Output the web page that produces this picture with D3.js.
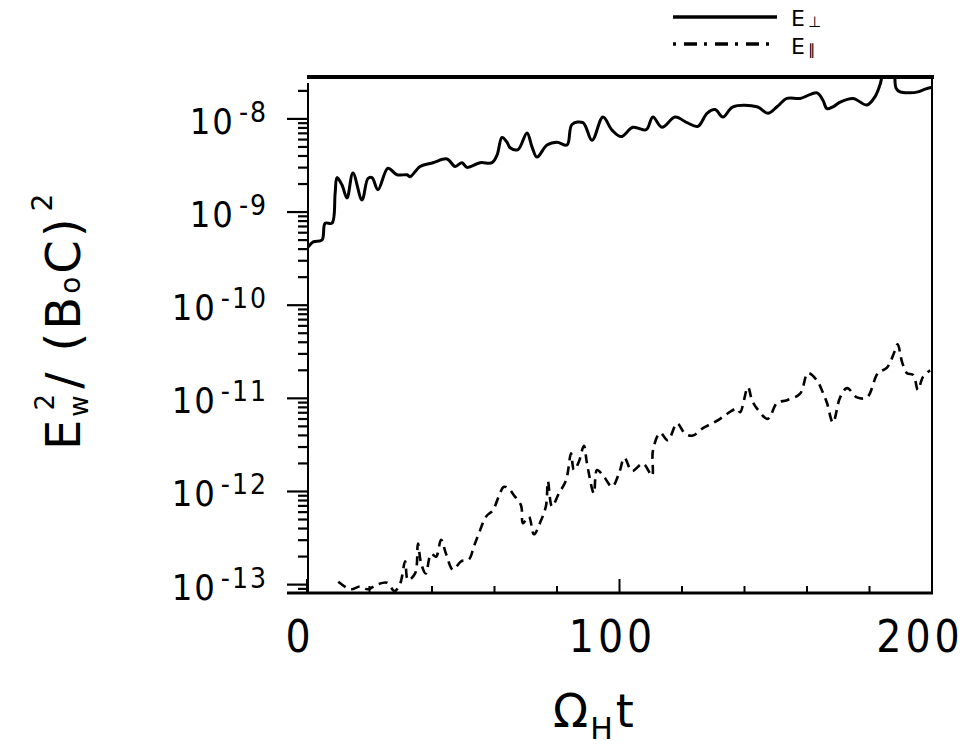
<!DOCTYPE html>
<html lang="en">
<head>
  <meta charset="UTF-8">
  <title>Wave energy growth</title>
  <style>
    body {
      margin: 0;
      background: #fff;
    }
    svg {
      display: block;
      font-family: 'DejaVu Sans', sans-serif;
    }
    .num {
      font-family: 'Liberation Sans Narrow', 'DejaVu Sans Condensed', 'DejaVu Sans', sans-serif;
      font-stretch: condensed;
    }
  </style>
</head>
<body>

<svg width="966" height="749"></svg>

<script src="https://d3js.org/d3.v7.min.js"></script>
<script>
// time (Omega_H t) and log10 of E_w^2/(B0 C)^2
const perpT = [0, 2, 4.8, 5.8, 8, 9, 9.6, 11.2, 12.8, 14.7, 17.6, 19.5, 20.8, 22.7, 25.9, 28.8, 32, 33, 36.2, 40.3,
  44.8, 47.4, 49.6, 51.2, 55.4, 59.2, 60.8, 62.4, 64, 65, 67.5, 70.4, 72, 73.6, 76.8, 80, 83.2, 84.8, 88.3, 91.2,
  94.7, 97.6, 100.5, 104.3, 108.2, 109, 110.7, 113.6, 117.8, 121.6, 125.1, 128, 130.6, 133.1, 136.3, 144, 147.5,
  150.4, 153.6, 157.8, 163.2, 165.1, 166.4, 168.3, 170.6, 174.7, 179.2, 181.8, 183.4, 185, 187.5, 188.5, 189.8,
  193, 195.5, 197.8, 200];
const perpLog = [-9.39, -9.32, -9.30, -9.12, -9.12, -8.80, -8.63, -8.71, -8.85, -8.58, -8.87, -8.64, -8.63, -8.76,
  -8.53, -8.60, -8.60, -8.62, -8.51, -8.47, -8.43, -8.51, -8.47, -8.52, -8.47, -8.47, -8.39, -8.20, -8.25, -8.31,
  -8.33, -8.15, -8.30, -8.41, -8.28, -8.25, -8.28, -8.06, -8.04, -8.23, -7.98, -8.12, -8.19, -8.09, -8.12, -8.10,
  -7.98, -8.09, -7.98, -8.04, -8.08, -7.94, -7.90, -7.98, -7.87, -7.87, -7.94, -7.87, -7.78, -7.78, -7.72, -7.80,
  -7.89, -7.87, -7.82, -7.78, -7.85, -7.76, -7.63, -7.45, -7.45, -7.67, -7.71, -7.72, -7.71, -7.68, -7.66];

const parT = [10, 14, 17, 19.5, 22.4, 25.6, 28, 29.8, 31.4, 32.3, 34.6, 35.5, 36.5, 38, 39.7, 41.3, 42.9, 44.5,
  46.7, 49.3, 51.8, 53.4, 55, 57.3, 59.5, 61.4, 63, 64.6, 66.2, 68.5, 69.1, 71, 72.6, 74.9, 76.5, 77.1, 78.4, 80.6,
  82.9, 84.5, 85.4, 87, 88.6, 89.6, 91.8, 92.8, 95, 97.6, 99.8, 101.6, 104, 107.5, 110.4, 110.7, 113, 115.5, 118.4,
  121, 123.5, 126.7, 129.6, 132.2, 134.7, 137.6, 138.6, 141.1, 142.4, 144, 147.5, 150.4, 153.6, 157.8, 160.3, 163.2,
  165.1, 166.4, 168.3, 170.6, 172.8, 176, 179.2, 182.7, 185.6, 188, 189, 190.5, 192, 194, 195.5, 197.1, 199.4];
const parLog = [-12.97, -13.05, -13.02, -13.05, -13.0, -12.98, -13.07, -12.99, -12.75, -12.95, -12.88, -12.56,
  -12.77, -12.88, -12.67, -12.70, -12.52, -12.67, -12.84, -12.75, -12.73, -12.59, -12.45, -12.27, -12.20, -12.05,
  -11.95, -11.97, -12.04, -12.15, -12.34, -12.27, -12.46, -12.31, -12.15, -11.89, -12.16, -12.02, -11.88, -11.59,
  -11.77, -11.68, -11.51, -11.70, -12.02, -11.77, -11.84, -11.95, -11.81, -11.64, -11.78, -11.70, -11.83, -11.56,
  -11.37, -11.45, -11.27, -11.38, -11.40, -11.32, -11.27, -11.22, -11.16, -11.11, -11.15, -10.88, -11.02, -11.11,
  -11.22, -11.05, -11.02, -10.95, -10.73, -10.81, -10.94, -11.05, -11.26, -10.99, -10.89, -10.99, -10.99, -10.73,
  -10.67, -10.50, -10.42, -10.62, -10.73, -10.75, -10.91, -10.77, -10.70];

const xTickLabels = [0, 100, 200];
const xMinorTicks = [20, 40, 60, 80, 120, 140, 160, 180];
const yDecades = [-8, -9, -10, -11, -12, -13];

const svg = d3.select("svg");

const x = d3.scaleLinear().domain([0, 200]).range([307, 932]);
const y = d3.scaleLog().domain([Math.pow(10, -13.09), Math.pow(10, -7.55)]).range([593, 77]);

const [x0, x1] = x.range();
const [yb, yt] = y.range();

svg.append("clipPath").attr("id", "plot")
  .append("rect").attr("x", x0).attr("y", yt).attr("width", x1 - x0).attr("height", yb - yt);

// frame
svg.append("line").attr("x1", x0).attr("x2", x1 + 2).attr("y1", yt).attr("y2", yt)
  .attr("stroke", "#000").attr("stroke-width", 4);
svg.append("line").attr("x1", x1).attr("x2", x1).attr("y1", yt).attr("y2", yb)
  .attr("stroke", "#000").attr("stroke-width", 2);
svg.append("line").attr("x1", x0 + 1).attr("x2", x0 + 1).attr("y1", yt + 6).attr("y2", yb)
  .attr("stroke", "#000").attr("stroke-width", 2);
svg.append("line").attr("x1", x0 - 20).attr("x2", x1 + 1).attr("y1", yb).attr("y2", yb)
  .attr("stroke", "#000").attr("stroke-width", 3);

// y ticks (outward, dense minors)
const yTicks = y.ticks().filter(v => y(v) >= yt && y(v) <= yb);
svg.append("g").selectAll("line").data(yTicks).join("line")
  .attr("x1", x0)
  .attr("x2", d => Math.abs(Math.log10(d) - Math.round(Math.log10(d))) < 1e-6 ? x0 - 20 : x0 - 9)
  .attr("y1", d => y(d)).attr("y2", d => y(d))
  .attr("stroke", "#000").attr("stroke-width", 2.2);

// y tick labels
const yLab = svg.append("g").selectAll("text").data(yDecades).join("text")
  .attr("class", "num")
  .attr("x", 268).attr("y", d => y(Math.pow(10, d)) + 15)
  .attr("text-anchor", "end")
  .attr("font-size", 36)
  .attr("letter-spacing", 2)
  .attr("fill", "#000");
yLab.append("tspan").text("10");
yLab.append("tspan").attr("dx", 4).attr("dy", -12).attr("font-size", 28)
  .text(d => "-" + Math.abs(d));

// x ticks (inward)
svg.append("g").selectAll("line").data(xMinorTicks).join("line")
  .attr("x1", d => x(d)).attr("x2", d => x(d))
  .attr("y1", yb).attr("y2", yb - 7)
  .attr("stroke", "#000").attr("stroke-width", 2);
svg.append("g").selectAll("line").data(xTickLabels).join("line")
  .attr("x1", d => x(d)).attr("x2", d => x(d))
  .attr("y1", yb).attr("y2", yb - 14)
  .attr("stroke", "#000").attr("stroke-width", 2);

svg.append("g").selectAll("text").data(xTickLabels).join("text")
  .attr("class", "num")
  .attr("x", d => x(d) - (d === 200 ? 12 : 7)).attr("y", 652)
  .attr("text-anchor", "middle")
  .attr("font-size", 44)
  .attr("letter-spacing", 4)
  .attr("fill", "#000")
  .text(d => d);

// curves
const line = d3.line()
  .x(d => x(d[0]))
  .y(d => y(Math.pow(10, d[1])))
  .curve(d3.curveCatmullRom.alpha(0.5));

const perp = perpT.map((t, i) => [t, perpLog[i]]);
const par = parT.map((t, i) => [t, parLog[i]]);

const curves = svg.append("g").attr("clip-path", "url(#plot)");
curves.append("path").datum(perp).attr("d", line)
  .attr("fill", "none").attr("stroke", "#000").attr("stroke-width", 3)
  .attr("stroke-linejoin", "round");
curves.append("path").datum(par).attr("d", line)
  .attr("fill", "none").attr("stroke", "#000").attr("stroke-width", 2.6)
  .attr("stroke-dasharray", "9 6");

// legend
const leg = svg.append("g");
leg.append("line").attr("x1", 673).attr("x2", 777).attr("y1", 17).attr("y2", 17)
  .attr("stroke", "#000").attr("stroke-width", 3.5);
leg.append("line").attr("x1", 673).attr("x2", 772).attr("y1", 44).attr("y2", 44)
  .attr("stroke", "#000").attr("stroke-width", 3.5).attr("stroke-dasharray", "3 8 13 7");
[["⊥", 26], ["∥", 54]].forEach(([s, by]) => {
  const t = leg.append("text").attr("x", 791).attr("y", by).attr("font-size", 22).attr("fill", "#000");
  t.append("tspan").text("E");
  t.append("tspan").attr("font-size", 15).attr("dx", 3).attr("dy", 1).attr("fill", "#000").text(s);
});

// axis titles
const xt = svg.append("text").attr("x", 553).attr("y", 727).attr("font-size", 46).attr("fill", "#000");
xt.append("tspan").text("Ω");
xt.append("tspan").attr("font-size", 30).attr("dy", 12).attr("dx", 2).text("H");
xt.append("tspan").attr("dy", -12).attr("dx", 3).text("t");

const yt2 = svg.append("text")
  .attr("transform", "translate(80,450) rotate(-90)")
  .attr("font-size", 48).attr("letter-spacing", 3).attr("fill", "#000");
yt2.append("tspan").text("E");
yt2.append("tspan").attr("font-size", 26).attr("dy", 8).text("w");
yt2.append("tspan").attr("font-size", 26).attr("dy", -34).attr("dx", -18).text("2");
yt2.append("tspan").attr("dy", 26).attr("dx", 2).text("/ (B");
yt2.append("tspan").attr("font-size", 28).text("o");
yt2.append("tspan").text("C)");
yt2.append("tspan").attr("font-size", 28).attr("dy", -28).attr("dx", 4).text("2");
</script>

</body>
</html>
